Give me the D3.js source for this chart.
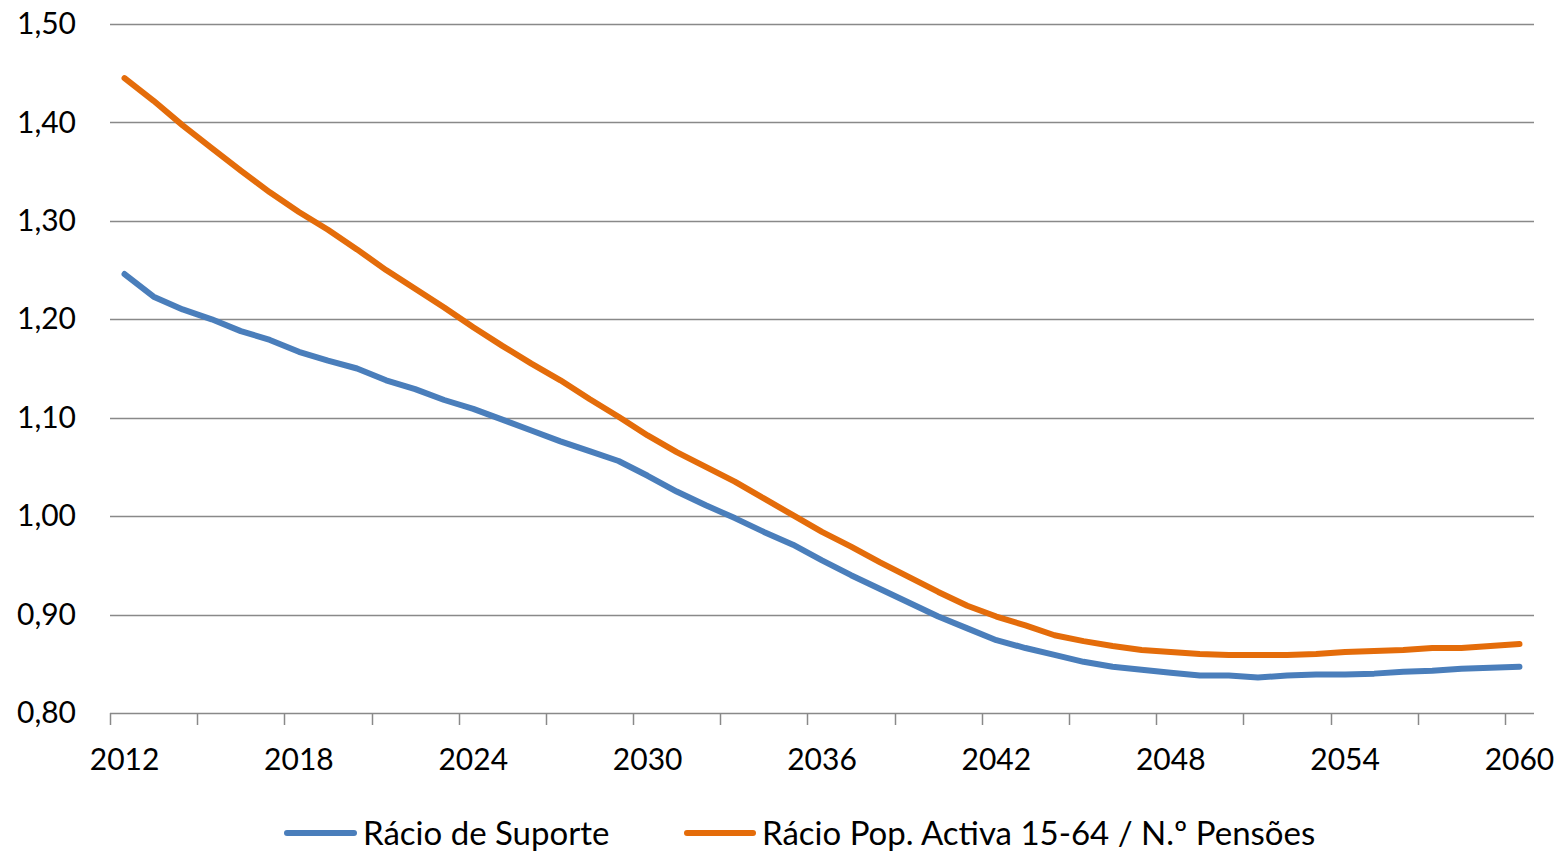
<!DOCTYPE html>
<html>
<head>
<meta charset="utf-8">
<script src="https://cdn.jsdelivr.net/npm/d3@7"></script>
<style>
  html, body { margin: 0; padding: 0; background: #fff; }
  svg { display: block; }
  text { font-family: Lato, "Open Sans", sans-serif; fill: #000; }
</style>
</head>
<body>
<svg id="chart" width="1561" height="853"></svg>
<script>
// Years 2012–2060
const years = [
  2012, 2013, 2014, 2015, 2016, 2017, 2018, 2019, 2020, 2021,
  2022, 2023, 2024, 2025, 2026, 2027, 2028, 2029, 2030, 2031,
  2032, 2033, 2034, 2035, 2036, 2037, 2038, 2039, 2040, 2041,
  2042, 2043, 2044, 2045, 2046, 2047, 2048, 2049, 2050, 2051,
  2052, 2053, 2054, 2055, 2056, 2057, 2058, 2059, 2060
];

// Rácio de Suporte
const racioSuporte = [
  1.246, 1.223, 1.210, 1.200, 1.188, 1.179, 1.167, 1.158, 1.150, 1.138,
  1.129, 1.118, 1.109, 1.098, 1.087, 1.076, 1.066, 1.056, 1.041, 1.025,
  1.011, 0.998, 0.984, 0.971, 0.955, 0.940, 0.926, 0.912, 0.898, 0.886,
  0.874, 0.866, 0.859, 0.852, 0.847, 0.844, 0.841, 0.838, 0.838, 0.836,
  0.838, 0.839, 0.839, 0.840, 0.842, 0.843, 0.845, 0.846, 0.847
];

// Rácio Pop. Activa 15-64 / N.º Pensões
const racioPopActiva = [
  1.445, 1.422, 1.397, 1.374, 1.351, 1.329, 1.309, 1.291, 1.271, 1.250,
  1.231, 1.212, 1.192, 1.173, 1.155, 1.138, 1.119, 1.101, 1.082, 1.065,
  1.050, 1.035, 1.018, 1.001, 0.984, 0.969, 0.953, 0.938, 0.923, 0.909,
  0.898, 0.889, 0.879, 0.873, 0.868, 0.864, 0.862, 0.860, 0.859, 0.859,
  0.859, 0.860, 0.862, 0.863, 0.864, 0.866, 0.866, 0.868, 0.870
];

const yTicks = [0.80, 0.90, 1.00, 1.10, 1.20, 1.30, 1.40, 1.50];
const xLabelYears = [2012, 2018, 2024, 2030, 2036, 2042, 2048, 2054, 2060];

const seriesNames = ["Rácio de Suporte", "Rácio Pop. Activa 15-64 / N.º Pensões"];
const seriesColors = ["#4A7EBB", "#E46C0A"];

const svg = d3.select("#chart");
const plotLeft = 110, plotRight = 1534, plotTop = 24, plotBottom = 713;

const x = d3.scaleBand().domain(years).range([plotLeft, plotRight]).padding(0);
const cx = d => x(d) + x.bandwidth() / 2;
const y = d3.scaleLinear().domain([0.8, 1.5]).range([plotBottom, plotTop]);

const fmt = v => d3.format(".2f")(v).replace(".", ",");

// Horizontal gridlines
svg.append("g")
  .selectAll("line")
  .data(yTicks)
  .join("line")
  .attr("x1", plotLeft).attr("x2", plotRight)
  .attr("y1", d => Math.round(y(d)) + 0.5)
  .attr("y2", d => Math.round(y(d)) + 0.5)
  .attr("stroke", "#898989")
  .attr("stroke-width", 1.5);

// Y axis labels
const yAxis = svg.append("g")
  .attr("transform", `translate(${plotLeft - 34},0)`)
  .call(d3.axisLeft(y).tickValues(yTicks).tickFormat(fmt).tickSize(0).tickPadding(0));
yAxis.select(".domain").remove();
yAxis.selectAll("text")
  .attr("font-size", 30)
  .attr("font-family", "Lato, 'Open Sans', sans-serif")
  .attr("fill", "#000");

// Category tick marks every three years, on band boundaries
const tickYears = years.filter((d, i) => i % 3 === 0);
svg.append("g")
  .selectAll("line")
  .data(tickYears)
  .join("line")
  .attr("x1", d => Math.round(x(d)) + 0.5)
  .attr("x2", d => Math.round(x(d)) + 0.5)
  .attr("y1", plotBottom)
  .attr("y2", plotBottom + 12)
  .attr("stroke", "#898989")
  .attr("stroke-width", 1.5);

// X axis labels
const xAxis = svg.append("g")
  .attr("transform", `translate(0,${plotBottom + 36})`)
  .call(d3.axisBottom(x).tickValues(xLabelYears).tickSize(0).tickPadding(0));
xAxis.select(".domain").remove();
xAxis.selectAll("text")
  .attr("font-size", 30)
  .attr("font-family", "Lato, 'Open Sans', sans-serif")
  .attr("fill", "#000");

// Series lines
const line = d3.line()
  .x((d, i) => cx(years[i]))
  .y(d => y(d));

[racioSuporte, racioPopActiva].forEach((vals, k) => {
  svg.append("path")
    .datum(vals)
    .attr("d", line)
    .attr("fill", "none")
    .attr("stroke", seriesColors[k])
    .attr("stroke-width", 6)
    .attr("stroke-linejoin", "round")
    .attr("stroke-linecap", "round");
});

// Legend
const legendY = 833;
const legendItems = [
  { x0: 287, x1: 354, tx: 363 },
  { x0: 687, x1: 753, tx: 762 }
];
legendItems.forEach((it, k) => {
  svg.append("line")
    .attr("x1", it.x0).attr("x2", it.x1)
    .attr("y1", legendY).attr("y2", legendY)
    .attr("stroke", seriesColors[k])
    .attr("stroke-width", 6)
    .attr("stroke-linecap", "round");
  svg.append("text")
    .attr("x", it.tx)
    .attr("y", legendY + 12)
    .attr("font-size", 33)
    .text(seriesNames[k]);
});
</script>
</body>
</html>
